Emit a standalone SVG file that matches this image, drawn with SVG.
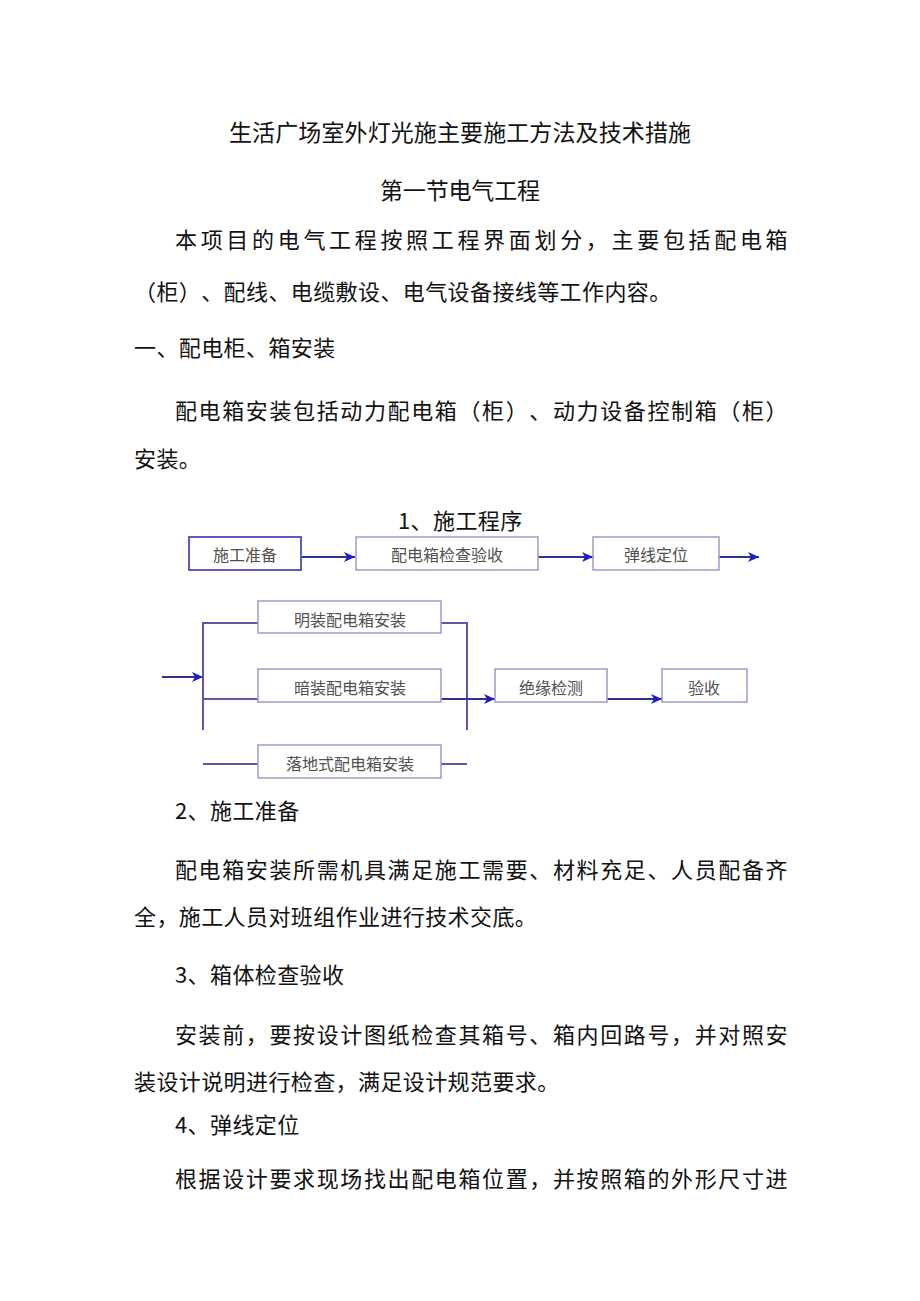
<svg xmlns="http://www.w3.org/2000/svg" width="920" height="1301" viewBox="0 0 920 1301">
<style>
text{text-spacing-trim:space-all}
.t{font-family:"Noto Sans CJK SC","Noto Sans CJK JP",sans-serif;fill:#111;font-size:22px;letter-spacing:0.4px}
.h{font-size:23px;letter-spacing:0}
.lb{font-family:"Noto Sans CJK SC","Noto Sans CJK JP",sans-serif;fill:#505050;font-size:16px;text-anchor:middle}
.box{fill:#fff;stroke:#9a9acc;stroke-width:1.5}
.box1{fill:#fff;stroke:#5a5ac8;stroke-width:2}
.ar{fill:none;stroke:#30309a;stroke-width:2;marker-end:url(#ah)}
.ln{fill:none;stroke:#5858ac;stroke-width:2}
</style>
<defs>
<marker id="ah" markerUnits="userSpaceOnUse" markerWidth="12" markerHeight="10" refX="11" refY="5" orient="auto">
<path d="M0,0 L11,5 L0,10 L3,5 Z" fill="#1c1cc8"/>
</marker>
</defs>
<rect width="920" height="1301" fill="#fff"/>

<g id="text">
<text class="t h" x="229" y="141" textLength="462" lengthAdjust="spacing">生活广场室外灯光施主要施工方法及技术措施</text>
<text class="t h" x="380" y="199" textLength="160" lengthAdjust="spacing">第一节电气工程</text>
<text class="t" x="175" y="248" textLength="613" lengthAdjust="spacing">本项目的电气工程按照工程界面划分，主要包括配电箱</text>
<text class="t" x="134" y="300">（柜）、配线、电缆敷设、电气设备接线等工作内容。</text>
<text class="t" x="134" y="356">一、配电柜、箱安装</text>
<text class="t" x="175" y="419" textLength="613" lengthAdjust="spacing">配电箱安装包括动力配电箱（柜）、动力设备控制箱（柜）</text>
<text class="t" x="134" y="467">安装。</text>
<text class="t" x="398" y="529">1、施工程序</text>
<text class="t" x="175" y="819">2、施工准备</text>
<text class="t" x="175" y="878" textLength="613" lengthAdjust="spacing">配电箱安装所需机具满足施工需要、材料充足、人员配备齐</text>
<text class="t" x="134" y="925">全，施工人员对班组作业进行技术交底。</text>
<text class="t" x="175" y="983">3、箱体检查验收</text>
<text class="t" x="175" y="1043" textLength="613" lengthAdjust="spacing">安装前，要按设计图纸检查其箱号、箱内回路号，并对照安</text>
<text class="t" x="134" y="1090">装设计说明进行检查，满足设计规范要求。</text>
<text class="t" x="175" y="1133">4、弹线定位</text>
<text class="t" x="175" y="1187" textLength="613" lengthAdjust="spacing">根据设计要求现场找出配电箱位置，并按照箱的外形尺寸进</text>
</g>

<g id="connectors">
<line class="ar" x1="301" y1="557" x2="355" y2="557"/>
<line class="ar" x1="538" y1="557" x2="593" y2="557"/>
<line class="ar" x1="719" y1="557" x2="759" y2="557"/>
<line class="ar" x1="162" y1="677" x2="203" y2="677"/>
<polyline class="ln" points="258,623 203,623 203,730"/>
<line class="ln" x1="203" y1="699" x2="258" y2="699"/>
<polyline class="ln" points="441,623 467,623 467,730"/>
<line class="ar" x1="441" y1="699" x2="495" y2="699"/>
<line class="ln" x1="203" y1="764" x2="258" y2="764"/>
<line class="ln" x1="441" y1="764" x2="467" y2="764"/>
<line class="ar" x1="607" y1="699" x2="662" y2="699"/>
</g>

<g id="n1"><rect class="box1" x="189" y="537" width="112" height="33"/><text class="lb" x="245" y="561">施工准备</text></g>
<g id="n2"><rect class="box" x="356" y="537" width="182" height="33"/><text class="lb" x="447" y="561">配电箱检查验收</text></g>
<g id="n3"><rect class="box" x="593" y="537" width="126" height="33"/><text class="lb" x="656" y="561">弹线定位</text></g>
<g id="n4"><rect class="box" x="258" y="601" width="183" height="32"/><text class="lb" x="350" y="626">明装配电箱安装</text></g>
<g id="n5"><rect class="box" x="258" y="669" width="183" height="33"/><text class="lb" x="350" y="694">暗装配电箱安装</text></g>
<g id="n6"><rect class="box" x="258" y="745" width="183" height="33"/><text class="lb" x="350" y="770">落地式配电箱安装</text></g>
<g id="n7"><rect class="box" x="495" y="669" width="112" height="33"/><text class="lb" x="551" y="694">绝缘检测</text></g>
<g id="n8"><rect class="box" x="662" y="669" width="85" height="33"/><text class="lb" x="704" y="694">验收</text></g>
</svg>
